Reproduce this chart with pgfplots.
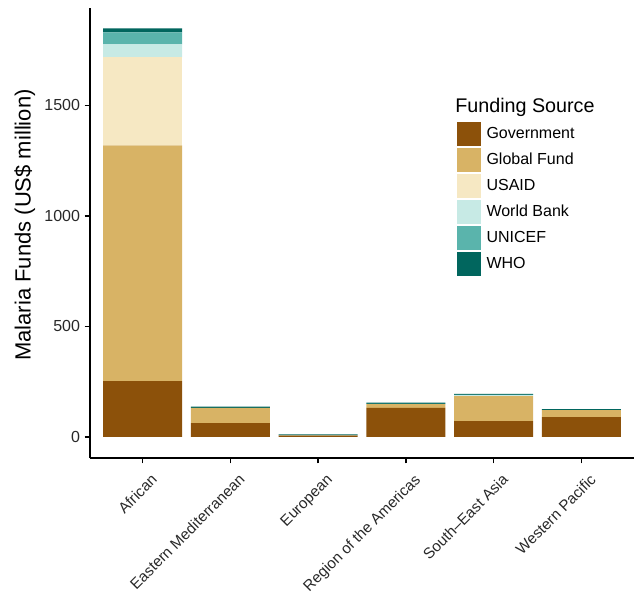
\documentclass[border=0pt]{standalone}
\usepackage{fontspec}
\setmainfont{Liberation Sans}
\usepackage{pgfplots}
\pgfplotsset{compat=1.18}

\definecolor{govt}{HTML}{8C510A}
\definecolor{gfund}{HTML}{D8B365}
\definecolor{usaid}{HTML}{F6E8C3}
\definecolor{wbank}{HTML}{C7EAE5}
\definecolor{unicef}{HTML}{5AB4AC}
\definecolor{who}{HTML}{01665E}
\definecolor{axtext}{RGB}{40,40,40}

\begin{document}
\begin{tikzpicture}
\path[use as bounding box] (-67.5pt,-101.25pt) rectangle (408.75pt,343.5pt);
\begin{axis}[
    ybar stacked,
    scale only axis,
    width=408pt,
    height=337.5pt,
    bar width=0.9,
    xmin=-0.6, xmax=5.6,
    ymin=-95, ymax=1940,
    axis x line*=bottom,
    axis y line*=left,
    axis line style={line width=1.3pt, black},
    every tick/.style={line width=1.1pt, black},
    tick align=outside,
    major tick length=4pt,
    xtick={0,1,2,3,4,5},
    xticklabels={African, Eastern Mediterranean, European, Region of the Americas, South–East Asia, Western Pacific},
    x tick label style={rotate=45, anchor=north east, inner sep=1pt, xshift=0pt, yshift=-8pt,
        font=\fontsize{11.4}{14}\selectfont, text=axtext},
    ytick={0,500,1000,1500},
    y tick label style={font=\fontsize{12}{14}\selectfont, text=axtext},
    /pgf/number format/assume math mode=true,
    /pgf/number format/1000 sep={},
    ylabel={Malaria Funds (US\$ million)},
    ylabel style={font=\fontsize{16.5}{18}\selectfont, xshift=6pt, yshift=0pt},
    legend style={at={(0.675,0.747)}, anchor=north west, draw=none, fill=none,
        inner sep=0pt, outer sep=0pt, row sep=1.5pt,
        font=\fontsize{12}{14}\selectfont,
        nodes={inner sep=0pt, anchor=base west},
        /tikz/every odd column/.append style={column sep=4pt}},
    legend cell align=left,
    legend image code/.code={\fill[#1] (0pt,-5.4pt) rectangle (18pt,12.6pt);},
    clip=false,
]
\addplot[fill=govt, draw=none] coordinates {(0,253) (1,63) (2,6) (3,132) (4,72) (5,90)};
\addplot[fill=gfund, draw=none] coordinates {(0,1066) (1,69) (2,1) (3,17) (4,113) (5,32)};
\addplot[fill=usaid, draw=none] coordinates {(0,398) (1,0) (2,0) (3,0) (4,0) (5,0)};
\addplot[fill=wbank, draw=none] coordinates {(0,59) (1,0) (2,0) (3,1) (4,5) (5,0)};
\addplot[fill=unicef, draw=none] coordinates {(0,54) (1,0) (2,0) (3,0) (4,1) (5,0)};
\addplot[fill=who, draw=none] coordinates {(0,18) (1,5) (2,5) (3,5) (4,4) (5,4)};
\legend{Government, Global Fund, USAID, World Bank, UNICEF, WHO}
\node[anchor=base west, inner sep=0pt, font=\fontsize{14.8}{17}\selectfont]
    at (rel axis cs:0.671,0.767) {Funding Source};
\end{axis}
\end{tikzpicture}
\end{document}
